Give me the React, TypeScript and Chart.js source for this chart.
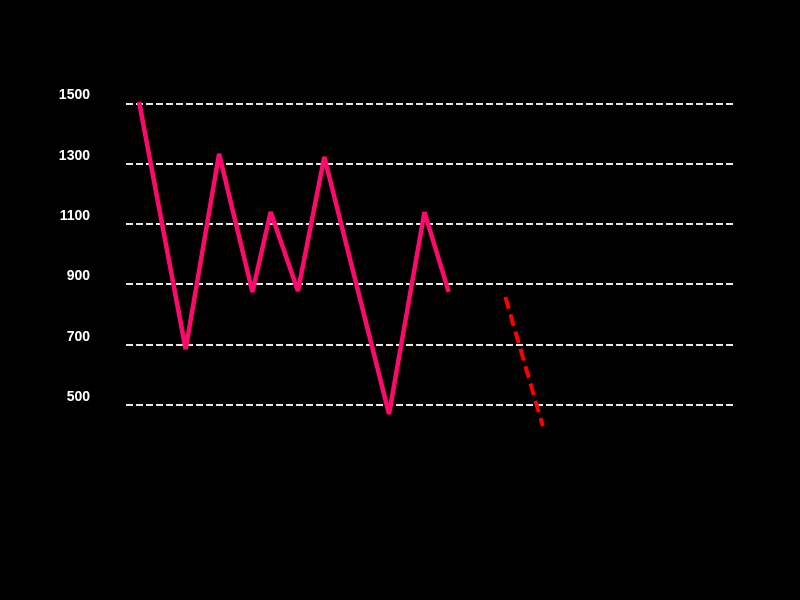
import React, { useEffect, useRef } from "react";
import { Chart, registerables } from "chart.js";

Chart.register(...registerables);

const mainX = [1.3, 5.9, 9.2, 12.5, 14.3, 17.0, 19.6, 26.0, 29.5, 31.9];
const mainY = [1505, 685, 1333, 875, 1140, 878, 1323, 470, 1140, 875];
const trendX = [37.5, 41.2];
const trendY = [858, 430];
const yTicks = [500, 700, 900, 1100, 1300, 1500];

export default function App() {
  const ref = useRef<HTMLCanvasElement | null>(null);

  useEffect(() => {
    document.body.style.margin = "0";
    document.body.style.background = "#000";
    const ctx = ref.current!.getContext("2d")!;
    const chart = new Chart(ctx, {
      type: "scatter",
      data: {
        datasets: [
          {
            data: mainX.map((x, i) => ({ x, y: mainY[i] })),
            showLine: true,
            borderColor: "#ff0a6c",
            borderWidth: 4.5,
            pointRadius: 0,
            borderJoinStyle: "bevel",
            clip: false,
          } as any,
          {
            data: trendX.map((x, i) => ({ x, y: trendY[i] })),
            showLine: true,
            borderColor: "#ff0000",
            borderWidth: 4,
            borderDash: [12, 6],
            pointRadius: 0,
            clip: false,
          } as any,
        ],
      },
      options: {
        animation: false,
        responsive: false,
        maintainAspectRatio: false,
        layout: { padding: { top: 103.5, bottom: 195, left: 0, right: 67 } },
        plugins: { legend: { display: false }, tooltip: { enabled: false } },
        scales: {
          x: {
            type: "linear",
            min: 0,
            max: 60,
            display: false,
          },
          y: {
            type: "linear",
            min: 500,
            max: 1500,
            afterBuildTicks: (scale: any) => {
              scale.ticks = yTicks.map((v) => ({ value: v }));
            },
            afterFit: (scale: any) => {
              scale.width = 126;
            },
            grid: {
              color: "#e6e6e6",
              lineWidth: 2,
              drawTicks: false,
              tickLength: 0,
            },
            border: { display: false, dash: [7, 3] },
            ticks: {
              color: "#ffffff",
              padding: 36,
              labelOffset: -8,
              font: { family: "Liberation Sans", size: 14, weight: "bold" },
              callback: (v: any) => String(v),
            },
          },
        },
      },
    });
    return () => chart.destroy();
  }, []);

  return (
    <div style={{ position: "absolute", left: 0, top: 0, width: 800, height: 600, background: "#000" }}>
      <canvas ref={ref} width={800} height={600} style={{ display: "block" }} />
    </div>
  );
}
